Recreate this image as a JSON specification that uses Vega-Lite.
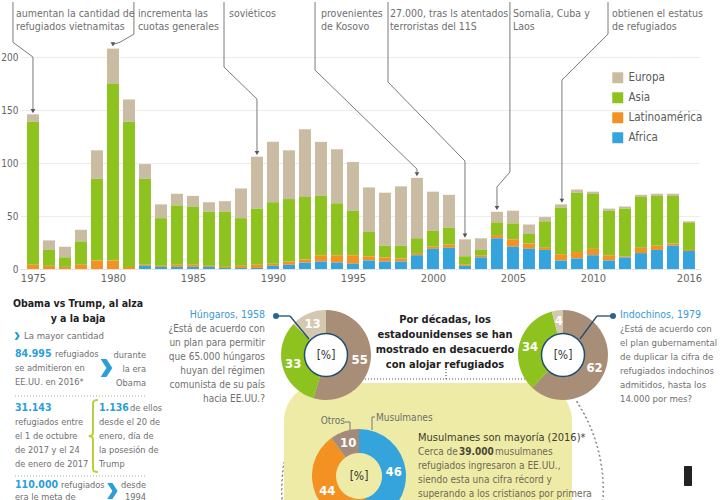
{
  "$schema": "https://vega.github.io/schema/vega-lite/v6.json",
  "padding": 0,
  "background": "white",
  "spacing": 5,
  "config": {
    "view": {"stroke": null},
    "font": "Liberation Sans Narrow, DejaVu Sans Condensed, Liberation Sans, sans-serif",
    "text": {"fontSize": 10, "color": "#6f6f6f", "baseline": "middle"}
  },
  "datasets": {
    "refugiados": [
      {"anio": 1975, "Europa": 7, "Asia": 135, "Latinoamérica": 4, "Africa": 0},
      {"anio": 1976, "Europa": 9, "Asia": 15, "Latinoamérica": 3, "Africa": 0},
      {"anio": 1977, "Europa": 10, "Asia": 9, "Latinoamérica": 2, "Africa": 0},
      {"anio": 1978, "Europa": 11, "Asia": 22, "Latinoamérica": 4, "Africa": 0},
      {"anio": 1979, "Europa": 27, "Asia": 77, "Latinoamérica": 8, "Africa": 0},
      {"anio": 1980, "Europa": 33, "Asia": 167, "Latinoamérica": 8, "Africa": 0},
      {"anio": 1981, "Europa": 21, "Asia": 137, "Latinoamérica": 2, "Africa": 0},
      {"anio": 1982, "Europa": 14, "Asia": 81, "Latinoamérica": 1, "Africa": 3},
      {"anio": 1983, "Europa": 13, "Asia": 45, "Latinoamérica": 1, "Africa": 2},
      {"anio": 1984, "Europa": 11, "Asia": 56, "Latinoamérica": 2, "Africa": 2},
      {"anio": 1985, "Europa": 10, "Asia": 55, "Latinoamérica": 2, "Africa": 2},
      {"anio": 1986, "Europa": 9, "Asia": 51, "Latinoamérica": 1, "Africa": 2},
      {"anio": 1987, "Europa": 10, "Asia": 52, "Latinoamérica": 1, "Africa": 1},
      {"anio": 1988, "Europa": 28, "Asia": 45, "Latinoamérica": 2, "Africa": 1},
      {"anio": 1989, "Europa": 49, "Asia": 53, "Latinoamérica": 3, "Africa": 1},
      {"anio": 1990, "Europa": 57, "Asia": 58, "Latinoamérica": 2, "Africa": 3},
      {"anio": 1991, "Europa": 46, "Asia": 59, "Latinoamérica": 3, "Africa": 4},
      {"anio": 1992, "Europa": 64, "Asia": 59, "Latinoamérica": 3, "Africa": 6},
      {"anio": 1993, "Europa": 51, "Asia": 56, "Latinoamérica": 6, "Africa": 7},
      {"anio": 1994, "Europa": 51, "Asia": 49, "Latinoamérica": 7, "Africa": 6},
      {"anio": 1995, "Europa": 46, "Asia": 42, "Latinoamérica": 8, "Africa": 5},
      {"anio": 1996, "Europa": 42, "Asia": 23, "Latinoamérica": 4, "Africa": 8},
      {"anio": 1997, "Europa": 50, "Asia": 11, "Latinoamérica": 4, "Africa": 7},
      {"anio": 1998, "Europa": 56, "Asia": 12, "Latinoamérica": 3, "Africa": 7},
      {"anio": 1999, "Europa": 57, "Asia": 14, "Latinoamérica": 2, "Africa": 13},
      {"anio": 2000, "Europa": 37, "Asia": 15, "Latinoamérica": 2, "Africa": 19},
      {"anio": 2001, "Europa": 31, "Asia": 16, "Latinoamérica": 3, "Africa": 20},
      {"anio": 2002, "Europa": 16, "Asia": 8, "Latinoamérica": 1, "Africa": 3},
      {"anio": 2003, "Europa": 11, "Asia": 5, "Latinoamérica": 2, "Africa": 11},
      {"anio": 2004, "Europa": 10, "Asia": 12, "Latinoamérica": 3, "Africa": 29},
      {"anio": 2005, "Europa": 12, "Asia": 15, "Latinoamérica": 7, "Africa": 21},
      {"anio": 2006, "Europa": 9, "Asia": 9, "Latinoamérica": 5, "Africa": 19},
      {"anio": 2007, "Europa": 4, "Asia": 25, "Latinoamérica": 2, "Africa": 18},
      {"anio": 2008, "Europa": 3, "Asia": 44, "Latinoamérica": 6, "Africa": 8},
      {"anio": 2009, "Europa": 3, "Asia": 56, "Latinoamérica": 6, "Africa": 10},
      {"anio": 2010, "Europa": 2, "Asia": 52, "Latinoamérica": 6, "Africa": 13},
      {"anio": 2011, "Europa": 2, "Asia": 42, "Latinoamérica": 5, "Africa": 8},
      {"anio": 2012, "Europa": 2, "Asia": 45, "Latinoamérica": 1, "Africa": 11},
      {"anio": 2013, "Europa": 2, "Asia": 48, "Latinoamérica": 5, "Africa": 15},
      {"anio": 2014, "Europa": 2, "Asia": 47, "Latinoamérica": 4, "Africa": 18},
      {"anio": 2015, "Europa": 2, "Asia": 45, "Latinoamérica": 2, "Africa": 22},
      {"anio": 2016, "Europa": 1, "Asia": 26, "Latinoamérica": 1, "Africa": 17}
    ],
    "guias": [
      {"id": 1, "p": 1, "anio": 1973.75, "valor": 252}, {"id": 1, "p": 2, "anio": 1973.75, "valor": 214},
      {"id": 1, "p": 3, "anio": 1975, "valor": 200}, {"id": 1, "p": 4, "anio": 1975, "valor": 149},
      {"id": 2, "p": 1, "anio": 1981.31, "valor": 252}, {"id": 2, "p": 2, "anio": 1981.31, "valor": 221.7},
      {"id": 2, "p": 3, "anio": 1980.44, "valor": 214}, {"id": 2, "p": 4, "anio": 1980, "valor": 212},
      {"id": 3, "p": 1, "anio": 1986.94, "valor": 252}, {"id": 3, "p": 2, "anio": 1986.94, "valor": 190.6},
      {"id": 3, "p": 3, "anio": 1989, "valor": 160.4}, {"id": 3, "p": 4, "anio": 1989, "valor": 109.5},
      {"id": 4, "p": 1, "anio": 1992.63, "valor": 252}, {"id": 4, "p": 2, "anio": 1992.63, "valor": 187.7},
      {"id": 4, "p": 3, "anio": 1999, "valor": 94.3}, {"id": 4, "p": 4, "anio": 1999, "valor": 89.5},
      {"id": 5, "p": 1, "anio": 1997.19, "valor": 252}, {"id": 5, "p": 2, "anio": 1997.19, "valor": 176.4},
      {"id": 5, "p": 3, "anio": 2002, "valor": 101.9}, {"id": 5, "p": 4, "anio": 2002, "valor": 31.5},
      {"id": 6, "p": 1, "anio": 2004.81, "valor": 252}, {"id": 6, "p": 2, "anio": 2004.81, "valor": 91.5},
      {"id": 6, "p": 3, "anio": 2004, "valor": 77.4}, {"id": 6, "p": 4, "anio": 2004, "valor": 57.5},
      {"id": 7, "p": 1, "anio": 2010.94, "valor": 252}, {"id": 7, "p": 2, "anio": 2010.94, "valor": 221.7},
      {"id": 7, "p": 3, "anio": 2008.06, "valor": 178.3}, {"id": 7, "p": 4, "anio": 2008.06, "valor": 64.5}
    ],
    "hungaros": [
      {"respuesta": "No", "pct": 55}, {"respuesta": "Sí", "pct": 33}, {"respuesta": "No sabe", "pct": 13}
    ],
    "indochinos": [
      {"respuesta": "No", "pct": 62}, {"respuesta": "Sí", "pct": 34}, {"respuesta": "No sabe", "pct": 4}
    ],
    "religion": [
      {"grupo": "Musulmanes", "pct": 46}, {"grupo": "Cristianos", "pct": 44}, {"grupo": "Otros", "pct": 10}
    ]
  },
  "vconcat": [
    {
      "width": 680,
      "height": 267,
      "data": {"values": [{}]},
      "layer": [
        {
          "data": {"name": "refugiados"},
          "transform": [
            {"fold": ["Europa", "Asia", "Latinoamérica", "Africa"], "as": ["region", "miles"]},
            {"calculate": "indexof(['Africa','Latinoamérica','Asia','Europa'], datum.region)", "as": "orden"}
          ],
          "mark": {"type": "bar", "width": 12},
          "encoding": {
            "x": {
              "field": "anio", "type": "quantitative",
              "scale": {"domain": [1974.19, 2016.69], "nice": false, "zero": false, "padding": 0},
              "axis": {"values": [1975, 1980, 1985, 1990, 1995, 2000, 2005, 2010, 2016], "format": "d", "title": null, "grid": false, "ticks": false, "domainColor": "#e2e2e2", "labelColor": "#666", "labelFontSize": 11, "labelPadding": 3, "minExtent": 18, "maxExtent": 18}
            },
            "y": {
              "field": "miles", "type": "quantitative", "stack": "zero",
              "scale": {"domain": [0, 252], "nice": false},
              "axis": {"values": [0, 50, 100, 150, 200], "title": null, "domain": false, "ticks": false, "gridColor": "#ececec", "labelColor": "#666", "labelFontSize": 10, "labelPadding": 2, "minExtent": 20, "maxExtent": 20}
            },
            "color": {
              "field": "region", "type": "nominal",
              "scale": {"domain": ["Europa", "Asia", "Latinoamérica", "Africa"], "range": ["#c9bca2", "#8dc21f", "#f39122", "#36a4dc"]},
              "legend": {"title": null, "orient": "none", "legendX": 592, "legendY": 70, "symbolType": "square", "symbolSize": 120, "symbolStrokeWidth": 0, "labelFontSize": 11.5, "labelColor": "#5a5a5a", "rowPadding": 7, "labelOffset": 5}
            },
            "order": {"field": "orden", "type": "quantitative"}
          }
        },
        {
          "data": {"name": "guias"},
          "mark": {"type": "line", "color": "#7a7a7a", "strokeWidth": 1},
          "encoding": {
            "x": {"field": "anio", "type": "quantitative", "scale": {"domain": [1974.19, 2016.69], "nice": false, "zero": false, "padding": 0}},
            "y": {"field": "valor", "type": "quantitative", "scale": {"domain": [0, 252], "nice": false}},
            "detail": {"field": "id"},
            "order": {"field": "p", "type": "quantitative"}
          }
        },
        {
          "data": {"name": "guias"},
          "transform": [{"filter": "datum.p == 4"}],
          "mark": {"type": "point", "shape": "triangle-down", "size": 22, "filled": true, "color": "#555", "opacity": 1},
          "encoding": {
            "x": {"field": "anio", "type": "quantitative", "scale": {"domain": [1974.19, 2016.69], "nice": false, "zero": false, "padding": 0}},
            "y": {"field": "valor", "type": "quantitative", "scale": {"domain": [0, 252], "nice": false}}
          }
        },
        {"mark": {"type": "text", "align": "left", "lineHeight": 13, "fontSize": 10.5}, "encoding": {"x": {"datum": 1973.94, "type": "quantitative", "scale": {"domain": [1974.19, 2016.69], "nice": false, "zero": false, "padding": 0}}, "y": {"datum": 240.6, "type": "quantitative", "scale": {"domain": [0, 252], "nice": false}}, "text": {"value": ["aumentan la cantidad de", "refugiados vietnamitas"]}}},
        {"mark": {"type": "text", "align": "left", "lineHeight": 13, "fontSize": 10.5}, "encoding": {"x": {"datum": 1981.56, "type": "quantitative", "scale": {"domain": [1974.19, 2016.69], "nice": false, "zero": false, "padding": 0}}, "y": {"datum": 240.6, "type": "quantitative", "scale": {"domain": [0, 252], "nice": false}}, "text": {"value": ["incrementa las", "cuotas generales"]}}},
        {"mark": {"type": "text", "align": "left", "lineHeight": 13, "fontSize": 10.5}, "encoding": {"x": {"datum": 1987.25, "type": "quantitative", "scale": {"domain": [1974.19, 2016.69], "nice": false, "zero": false, "padding": 0}}, "y": {"datum": 240.6, "type": "quantitative", "scale": {"domain": [0, 252], "nice": false}}, "text": {"value": "soviéticos"}}},
        {"mark": {"type": "text", "align": "left", "lineHeight": 13, "fontSize": 10.5}, "encoding": {"x": {"datum": 1993.0, "type": "quantitative", "scale": {"domain": [1974.19, 2016.69], "nice": false, "zero": false, "padding": 0}}, "y": {"datum": 240.6, "type": "quantitative", "scale": {"domain": [0, 252], "nice": false}}, "text": {"value": ["provenientes", "de Kosovo"]}}},
        {"mark": {"type": "text", "align": "left", "lineHeight": 13, "fontSize": 10.5}, "encoding": {"x": {"datum": 1997.31, "type": "quantitative", "scale": {"domain": [1974.19, 2016.69], "nice": false, "zero": false, "padding": 0}}, "y": {"datum": 240.6, "type": "quantitative", "scale": {"domain": [0, 252], "nice": false}}, "text": {"value": ["27.000, tras ls atentados", "terroristas del 11S"]}}},
        {"mark": {"type": "text", "align": "left", "lineHeight": 13, "fontSize": 10.5}, "encoding": {"x": {"datum": 2005.0, "type": "quantitative", "scale": {"domain": [1974.19, 2016.69], "nice": false, "zero": false, "padding": 0}}, "y": {"datum": 240.6, "type": "quantitative", "scale": {"domain": [0, 252], "nice": false}}, "text": {"value": ["Somalia, Cuba y", "Laos"]}}},
        {"mark": {"type": "text", "align": "left", "lineHeight": 13, "fontSize": 10.5}, "encoding": {"x": {"datum": 2011.19, "type": "quantitative", "scale": {"domain": [1974.19, 2016.69], "nice": false, "zero": false, "padding": 0}}, "y": {"datum": 240.6, "type": "quantitative", "scale": {"domain": [0, 252], "nice": false}}, "text": {"value": ["obtienen el estatus", "de refugiados"]}}}
      ]
    },
    {
      "width": 700,
      "height": 210,
      "data": {"values": [{}]},
      "resolve": {"scale": {"theta": "independent", "color": "independent"}},
      "layer": [
        {
          "mark": {"type": "arc", "radius": 161, "radius2": 160.5, "theta": 0.99, "theta2": 5.29, "filled": false, "color": "#8a8a8a", "strokeWidth": 1.2, "strokeDash": [1.5, 3], "clip": true},
          "encoding": {
            "x": {"datum": 442.5, "type": "quantitative", "scale": {"domain": [20, 720], "nice": false, "zero": false}, "axis": null},
            "y": {"datum": 488, "type": "quantitative", "scale": {"domain": [290, 500], "reverse": true, "nice": false, "zero": false}, "axis": null}
          }
        },
        {
          "mark": {"type": "rect", "color": "#eeeba6", "cornerRadiusTopLeft": 38, "cornerRadiusTopRight": 38, "clip": true},
          "encoding": {"x": {"datum": 284, "type": "quantitative", "scale": {"domain": [20, 720], "nice": false, "zero": false}, "axis": null}, "x2": {"datum": 572}, "y": {"datum": 381, "type": "quantitative", "scale": {"domain": [290, 500], "reverse": true, "nice": false, "zero": false}, "axis": null}, "y2": {"datum": 500}}
        },
        {
          "mark": {"type": "rule", "color": "#555", "strokeDash": [1, 2], "strokeWidth": 1.2},
          "encoding": {"x": {"datum": 326, "type": "quantitative", "scale": {"domain": [20, 720], "nice": false, "zero": false}, "axis": null}, "x2": {"datum": 562}, "y": {"datum": 377, "type": "quantitative", "scale": {"domain": [290, 500], "reverse": true, "nice": false, "zero": false}, "axis": null}}
        },
        {
          "mark": {"type": "rule", "color": "#555", "strokeDash": [1, 2], "strokeWidth": 1.2},
          "encoding": {"x": {"datum": 446, "type": "quantitative", "scale": {"domain": [20, 720], "nice": false, "zero": false}, "axis": null}, "y": {"datum": 367, "type": "quantitative", "scale": {"domain": [290, 500], "reverse": true, "nice": false, "zero": false}, "axis": null}, "y2": {"datum": 377}}
        },
        {
          "data": {"name": "hungaros"},
          "encoding": {
            "x": {"datum": 326, "type": "quantitative", "scale": {"domain": [20, 720], "nice": false, "zero": false}, "axis": null},
            "y": {"datum": 353, "type": "quantitative", "scale": {"domain": [290, 500], "reverse": true, "nice": false, "zero": false}, "axis": null},
            "theta": {"field": "pct", "type": "quantitative", "stack": true},
            "order": {"field": "pct", "type": "quantitative", "sort": "descending"}
          },
          "layer": [
            {"mark": {"type": "arc", "outerRadius": 45, "innerRadius": 21}, "encoding": {"color": {"field": "respuesta", "type": "nominal", "scale": {"domain": ["No", "Sí", "No sabe"], "range": ["#a88d77", "#8dc21f", "#d5c8b0"]}, "legend": null}}},
            {"mark": {"type": "text", "radius": 34, "color": "white", "fontWeight": "bold", "fontSize": 13, "align": "center"}, "encoding": {"text": {"field": "pct", "type": "quantitative"}}}
          ]
        },
        {
          "data": {"name": "indochinos"},
          "encoding": {
            "x": {"datum": 563, "type": "quantitative", "scale": {"domain": [20, 720], "nice": false, "zero": false}, "axis": null},
            "y": {"datum": 353, "type": "quantitative", "scale": {"domain": [290, 500], "reverse": true, "nice": false, "zero": false}, "axis": null},
            "theta": {"field": "pct", "type": "quantitative", "stack": true},
            "order": {"field": "pct", "type": "quantitative", "sort": "descending"}
          },
          "layer": [
            {"mark": {"type": "arc", "outerRadius": 45, "innerRadius": 21}, "encoding": {"color": {"field": "respuesta", "type": "nominal", "scale": {"domain": ["No", "Sí", "No sabe"], "range": ["#a88d77", "#8dc21f", "#d5c8b0"]}, "legend": null}}},
            {"mark": {"type": "text", "radius": 34, "color": "white", "fontWeight": "bold", "fontSize": 13, "align": "center"}, "encoding": {"text": {"field": "pct", "type": "quantitative"}}}
          ]
        },
        {
          "data": {"name": "religion"},
          "encoding": {
            "x": {"datum": 359, "type": "quantitative", "scale": {"domain": [20, 720], "nice": false, "zero": false}, "axis": null},
            "y": {"datum": 474, "type": "quantitative", "scale": {"domain": [290, 500], "reverse": true, "nice": false, "zero": false}, "axis": null},
            "theta": {"field": "pct", "type": "quantitative", "stack": true},
            "order": {"field": "pct", "type": "quantitative", "sort": "descending"}
          },
          "layer": [
            {"mark": {"type": "arc", "outerRadius": 47, "innerRadius": 23}, "encoding": {"color": {"field": "grupo", "type": "nominal", "scale": {"domain": ["Musulmanes", "Cristianos", "Otros"], "range": ["#36a4dc", "#f39122", "#a38a7b"]}, "legend": null}}},
            {"mark": {"type": "text", "radius": 35, "color": "white", "fontWeight": "bold", "fontSize": 13, "align": "center"}, "encoding": {"text": {"field": "pct", "type": "quantitative"}}}
          ]
        },
        {"mark": {"type": "point", "shape": "circle", "size": 1849, "filled": true, "fill": "white", "stroke": "#1f4e6f", "strokeWidth": 1.5, "opacity": 1}, "encoding": {"x": {"datum": 326, "type": "quantitative", "scale": {"domain": [20, 720], "nice": false, "zero": false}, "axis": null}, "y": {"datum": 353, "type": "quantitative", "scale": {"domain": [290, 500], "reverse": true, "nice": false, "zero": false}, "axis": null}}},
        {"mark": {"type": "point", "shape": "circle", "size": 1849, "filled": true, "fill": "white", "stroke": "#1f4e6f", "strokeWidth": 1.5, "opacity": 1}, "encoding": {"x": {"datum": 563, "type": "quantitative", "scale": {"domain": [20, 720], "nice": false, "zero": false}, "axis": null}, "y": {"datum": 353, "type": "quantitative", "scale": {"domain": [290, 500], "reverse": true, "nice": false, "zero": false}, "axis": null}}},
        {"mark": {"type": "text", "fontSize": 12, "color": "#333", "align": "center"}, "encoding": {"x": {"datum": 326, "type": "quantitative", "scale": {"domain": [20, 720], "nice": false, "zero": false}, "axis": null}, "y": {"datum": 353, "type": "quantitative", "scale": {"domain": [290, 500], "reverse": true, "nice": false, "zero": false}, "axis": null}, "text": {"value": "[%]"}}},
        {"mark": {"type": "text", "fontSize": 12, "color": "#333", "align": "center"}, "encoding": {"x": {"datum": 563, "type": "quantitative", "scale": {"domain": [20, 720], "nice": false, "zero": false}, "axis": null}, "y": {"datum": 353, "type": "quantitative", "scale": {"domain": [290, 500], "reverse": true, "nice": false, "zero": false}, "axis": null}, "text": {"value": "[%]"}}},
        {"mark": {"type": "text", "fontSize": 12, "color": "#333", "align": "center"}, "encoding": {"x": {"datum": 359, "type": "quantitative", "scale": {"domain": [20, 720], "nice": false, "zero": false}, "axis": null}, "y": {"datum": 474, "type": "quantitative", "scale": {"domain": [290, 500], "reverse": true, "nice": false, "zero": false}, "axis": null}, "text": {"value": "[%]"}}},
        {"mark": {"type": "rule", "color": "#1f4e6f", "strokeWidth": 1.3}, "encoding": {"x": {"datum": 276, "type": "quantitative", "scale": {"domain": [20, 720], "nice": false, "zero": false}, "axis": null}, "x2": {"datum": 290}, "y": {"datum": 314, "type": "quantitative", "scale": {"domain": [290, 500], "reverse": true, "nice": false, "zero": false}, "axis": null}, "y2": {"datum": 314}}},
        {"mark": {"type": "rule", "color": "#1f4e6f", "strokeWidth": 1.3}, "encoding": {"x": {"datum": 290, "type": "quantitative", "scale": {"domain": [20, 720], "nice": false, "zero": false}, "axis": null}, "x2": {"datum": 309}, "y": {"datum": 314, "type": "quantitative", "scale": {"domain": [290, 500], "reverse": true, "nice": false, "zero": false}, "axis": null}, "y2": {"datum": 337}}},
        {"mark": {"type": "rule", "color": "#1f4e6f", "strokeWidth": 1.3}, "encoding": {"x": {"datum": 613, "type": "quantitative", "scale": {"domain": [20, 720], "nice": false, "zero": false}, "axis": null}, "x2": {"datum": 597}, "y": {"datum": 314, "type": "quantitative", "scale": {"domain": [290, 500], "reverse": true, "nice": false, "zero": false}, "axis": null}, "y2": {"datum": 314}}},
        {"mark": {"type": "rule", "color": "#1f4e6f", "strokeWidth": 1.3}, "encoding": {"x": {"datum": 597, "type": "quantitative", "scale": {"domain": [20, 720], "nice": false, "zero": false}, "axis": null}, "x2": {"datum": 580}, "y": {"datum": 314, "type": "quantitative", "scale": {"domain": [290, 500], "reverse": true, "nice": false, "zero": false}, "axis": null}, "y2": {"datum": 337}}},
        {"mark": {"type": "point", "shape": "circle", "size": 36, "filled": true, "color": "#2a6590", "opacity": 1}, "encoding": {"x": {"datum": 276, "type": "quantitative", "scale": {"domain": [20, 720], "nice": false, "zero": false}, "axis": null}, "y": {"datum": 314, "type": "quantitative", "scale": {"domain": [290, 500], "reverse": true, "nice": false, "zero": false}, "axis": null}}},
        {"mark": {"type": "point", "shape": "circle", "size": 36, "filled": true, "color": "#2a6590", "opacity": 1}, "encoding": {"x": {"datum": 613, "type": "quantitative", "scale": {"domain": [20, 720], "nice": false, "zero": false}, "axis": null}, "y": {"datum": 314, "type": "quantitative", "scale": {"domain": [290, 500], "reverse": true, "nice": false, "zero": false}, "axis": null}}},
        {"mark": {"type": "text", "align": "center", "fontWeight": "bold", "fontSize": 11, "color": "#222", "lineHeight": 15}, "encoding": {"x": {"datum": 445, "type": "quantitative", "scale": {"domain": [20, 720], "nice": false, "zero": false}, "axis": null}, "y": {"datum": 318, "type": "quantitative", "scale": {"domain": [290, 500], "reverse": true, "nice": false, "zero": false}, "axis": null}, "text": {"value": ["Por décadas, los", "estadounidenses se han", "mostrado en desacuerdo", "con alojar refugiados"]}}},
        {"mark": {"type": "text", "align": "right", "fontSize": 10.5, "color": "#3b9ad6"}, "encoding": {"x": {"datum": 265, "type": "quantitative", "scale": {"domain": [20, 720], "nice": false, "zero": false}, "axis": null}, "y": {"datum": 313, "type": "quantitative", "scale": {"domain": [290, 500], "reverse": true, "nice": false, "zero": false}, "axis": null}, "text": {"value": "Húngaros, 1958"}}},
        {"mark": {"type": "text", "align": "right", "fontSize": 10, "lineHeight": 14}, "encoding": {"x": {"datum": 265, "type": "quantitative", "scale": {"domain": [20, 720], "nice": false, "zero": false}, "axis": null}, "y": {"datum": 327, "type": "quantitative", "scale": {"domain": [290, 500], "reverse": true, "nice": false, "zero": false}, "axis": null}, "text": {"value": ["¿Está de acuerdo con", "un plan para permitir", "que 65.000 húngaros", "huyan del régimen", "comunista de su país", "hacia EE.UU.?"]}}},
        {"mark": {"type": "text", "align": "left", "fontSize": 10.5, "color": "#3b9ad6"}, "encoding": {"x": {"datum": 620, "type": "quantitative", "scale": {"domain": [20, 720], "nice": false, "zero": false}, "axis": null}, "y": {"datum": 313, "type": "quantitative", "scale": {"domain": [290, 500], "reverse": true, "nice": false, "zero": false}, "axis": null}, "text": {"value": "Indochinos, 1979"}}},
        {"mark": {"type": "text", "align": "left", "fontSize": 9.5, "lineHeight": 14}, "encoding": {"x": {"datum": 620, "type": "quantitative", "scale": {"domain": [20, 720], "nice": false, "zero": false}, "axis": null}, "y": {"datum": 327, "type": "quantitative", "scale": {"domain": [290, 500], "reverse": true, "nice": false, "zero": false}, "axis": null}, "text": {"value": ["¿Está de acuerdo con", "el plan gubernamental", "de duplicar la cifra de", "refugiados indochinos", "admitidos, hasta los", "14.000 por mes?"]}}},
        {"mark": {"type": "text", "align": "right", "fontSize": 10}, "encoding": {"x": {"datum": 345, "type": "quantitative", "scale": {"domain": [20, 720], "nice": false, "zero": false}, "axis": null}, "y": {"datum": 419, "type": "quantitative", "scale": {"domain": [290, 500], "reverse": true, "nice": false, "zero": false}, "axis": null}, "text": {"value": "Otros"}}},
        {"mark": {"type": "rule", "color": "#777", "strokeWidth": 1}, "encoding": {"x": {"datum": 345, "type": "quantitative", "scale": {"domain": [20, 720], "nice": false, "zero": false}, "axis": null}, "x2": {"datum": 350}, "y": {"datum": 420, "type": "quantitative", "scale": {"domain": [290, 500], "reverse": true, "nice": false, "zero": false}, "axis": null}, "y2": {"datum": 420}}},
        {"mark": {"type": "rule", "color": "#777", "strokeWidth": 1}, "encoding": {"x": {"datum": 350, "type": "quantitative", "scale": {"domain": [20, 720], "nice": false, "zero": false}, "axis": null}, "y": {"datum": 420, "type": "quantitative", "scale": {"domain": [290, 500], "reverse": true, "nice": false, "zero": false}, "axis": null}, "y2": {"datum": 428}}},
        {"mark": {"type": "text", "align": "left", "fontSize": 10}, "encoding": {"x": {"datum": 376, "type": "quantitative", "scale": {"domain": [20, 720], "nice": false, "zero": false}, "axis": null}, "y": {"datum": 416, "type": "quantitative", "scale": {"domain": [290, 500], "reverse": true, "nice": false, "zero": false}, "axis": null}, "text": {"value": "Musulmanes"}}},
        {"mark": {"type": "rule", "color": "#777", "strokeWidth": 1}, "encoding": {"x": {"datum": 372, "type": "quantitative", "scale": {"domain": [20, 720], "nice": false, "zero": false}, "axis": null}, "x2": {"datum": 375}, "y": {"datum": 415, "type": "quantitative", "scale": {"domain": [290, 500], "reverse": true, "nice": false, "zero": false}, "axis": null}, "y2": {"datum": 415}}},
        {"mark": {"type": "rule", "color": "#777", "strokeWidth": 1}, "encoding": {"x": {"datum": 372, "type": "quantitative", "scale": {"domain": [20, 720], "nice": false, "zero": false}, "axis": null}, "y": {"datum": 415, "type": "quantitative", "scale": {"domain": [290, 500], "reverse": true, "nice": false, "zero": false}, "axis": null}, "y2": {"datum": 428}}},
        {"mark": {"type": "text", "align": "left", "fontSize": 11, "color": "#3d3d30"}, "encoding": {"x": {"datum": 418, "type": "quantitative", "scale": {"domain": [20, 720], "nice": false, "zero": false}, "axis": null}, "y": {"datum": 436, "type": "quantitative", "scale": {"domain": [290, 500], "reverse": true, "nice": false, "zero": false}, "axis": null}, "text": {"value": "Musulmanes son mayoría (2016)*"}}},
        {"mark": {"type": "text", "align": "left", "fontSize": 10, "color": "#6e6a55"}, "encoding": {"x": {"datum": 418, "type": "quantitative", "scale": {"domain": [20, 720], "nice": false, "zero": false}, "axis": null}, "y": {"datum": 450, "type": "quantitative", "scale": {"domain": [290, 500], "reverse": true, "nice": false, "zero": false}, "axis": null}, "text": {"value": "Cerca de"}}},
        {"mark": {"type": "text", "align": "left", "fontSize": 10, "fontWeight": "bold", "color": "#4a4636"}, "encoding": {"x": {"datum": 459, "type": "quantitative", "scale": {"domain": [20, 720], "nice": false, "zero": false}, "axis": null}, "y": {"datum": 450, "type": "quantitative", "scale": {"domain": [290, 500], "reverse": true, "nice": false, "zero": false}, "axis": null}, "text": {"value": "39.000"}}},
        {"mark": {"type": "text", "align": "left", "fontSize": 10, "color": "#6e6a55"}, "encoding": {"x": {"datum": 495, "type": "quantitative", "scale": {"domain": [20, 720], "nice": false, "zero": false}, "axis": null}, "y": {"datum": 450, "type": "quantitative", "scale": {"domain": [290, 500], "reverse": true, "nice": false, "zero": false}, "axis": null}, "text": {"value": "musulmanes"}}},
        {"mark": {"type": "text", "align": "left", "fontSize": 10, "color": "#6e6a55", "lineHeight": 14}, "encoding": {"x": {"datum": 418, "type": "quantitative", "scale": {"domain": [20, 720], "nice": false, "zero": false}, "axis": null}, "y": {"datum": 464, "type": "quantitative", "scale": {"domain": [290, 500], "reverse": true, "nice": false, "zero": false}, "axis": null}, "text": {"value": ["refugiados ingresaron a EE.UU.,", "siendo esta una cifra récord y", "superando a los cristianos por primera"]}}},
        {"mark": {"type": "rect", "color": "#222", "cornerRadius": 1}, "encoding": {"x": {"datum": 684, "type": "quantitative", "scale": {"domain": [20, 720], "nice": false, "zero": false}, "axis": null}, "x2": {"datum": 692}, "y": {"datum": 464, "type": "quantitative", "scale": {"domain": [290, 500], "reverse": true, "nice": false, "zero": false}, "axis": null}, "y2": {"datum": 484}}},
        {"mark": {"type": "text", "align": "center", "fontWeight": "bold", "fontSize": 10.5, "color": "#1e1e1e", "lineHeight": 15}, "encoding": {"x": {"datum": 78, "type": "quantitative", "scale": {"domain": [20, 720], "nice": false, "zero": false}, "axis": null}, "y": {"datum": 302, "type": "quantitative", "scale": {"domain": [290, 500], "reverse": true, "nice": false, "zero": false}, "axis": null}, "text": {"value": ["Obama vs Trump, al alza", "y a la baja"]}}},
        {"mark": {"type": "point", "shape": "M-0.6,-1L0.05,-1L0.7,0L0.05,1L-0.6,1L0.05,0Z", "size": 64, "filled": true, "color": "#2a9fd8", "opacity": 1}, "encoding": {"x": {"datum": 17, "type": "quantitative", "scale": {"domain": [20, 720], "nice": false, "zero": false}, "axis": null}, "y": {"datum": 334, "type": "quantitative", "scale": {"domain": [290, 500], "reverse": true, "nice": false, "zero": false}, "axis": null}}},
        {"mark": {"type": "text", "align": "left", "fontSize": 9.5}, "encoding": {"x": {"datum": 24, "type": "quantitative", "scale": {"domain": [20, 720], "nice": false, "zero": false}, "axis": null}, "y": {"datum": 334, "type": "quantitative", "scale": {"domain": [290, 500], "reverse": true, "nice": false, "zero": false}, "axis": null}, "text": {"value": "La mayor cantidad"}}},
        {"mark": {"type": "text", "align": "left", "fontSize": 10.5, "fontWeight": "bold", "color": "#2a9fd8"}, "encoding": {"x": {"datum": 15, "type": "quantitative", "scale": {"domain": [20, 720], "nice": false, "zero": false}, "axis": null}, "y": {"datum": 352, "type": "quantitative", "scale": {"domain": [290, 500], "reverse": true, "nice": false, "zero": false}, "axis": null}, "text": {"value": "84.995"}}},
        {"mark": {"type": "text", "align": "left", "fontSize": 9.2}, "encoding": {"x": {"datum": 55, "type": "quantitative", "scale": {"domain": [20, 720], "nice": false, "zero": false}, "axis": null}, "y": {"datum": 352, "type": "quantitative", "scale": {"domain": [290, 500], "reverse": true, "nice": false, "zero": false}, "axis": null}, "text": {"value": "refugiados"}}},
        {"mark": {"type": "text", "align": "left", "fontSize": 9.2, "lineHeight": 14}, "encoding": {"x": {"datum": 15, "type": "quantitative", "scale": {"domain": [20, 720], "nice": false, "zero": false}, "axis": null}, "y": {"datum": 366, "type": "quantitative", "scale": {"domain": [290, 500], "reverse": true, "nice": false, "zero": false}, "axis": null}, "text": {"value": ["se admitieron en", "EE.UU. en 2016*"]}}},
        {"mark": {"type": "point", "shape": "M-0.6,-1L0.05,-1L0.7,0L0.05,1L-0.6,1L0.05,0Z", "size": 324, "filled": true, "color": "#2a9fd8", "opacity": 1}, "encoding": {"x": {"datum": 106, "type": "quantitative", "scale": {"domain": [20, 720], "nice": false, "zero": false}, "axis": null}, "y": {"datum": 366, "type": "quantitative", "scale": {"domain": [290, 500], "reverse": true, "nice": false, "zero": false}, "axis": null}}},
        {"mark": {"type": "text", "align": "right", "fontSize": 9.2, "lineHeight": 14}, "encoding": {"x": {"datum": 146, "type": "quantitative", "scale": {"domain": [20, 720], "nice": false, "zero": false}, "axis": null}, "y": {"datum": 353, "type": "quantitative", "scale": {"domain": [290, 500], "reverse": true, "nice": false, "zero": false}, "axis": null}, "text": {"value": ["durante", "la era", "Obama"]}}},
        {"mark": {"type": "rule", "color": "#aaa", "strokeDash": [1, 2]}, "encoding": {"x": {"datum": 15, "type": "quantitative", "scale": {"domain": [20, 720], "nice": false, "zero": false}, "axis": null}, "x2": {"datum": 145}, "y": {"datum": 394, "type": "quantitative", "scale": {"domain": [290, 500], "reverse": true, "nice": false, "zero": false}, "axis": null}}},
        {"mark": {"type": "text", "align": "left", "fontSize": 10.5, "fontWeight": "bold", "color": "#2a9fd8"}, "encoding": {"x": {"datum": 15, "type": "quantitative", "scale": {"domain": [20, 720], "nice": false, "zero": false}, "axis": null}, "y": {"datum": 406, "type": "quantitative", "scale": {"domain": [290, 500], "reverse": true, "nice": false, "zero": false}, "axis": null}, "text": {"value": "31.143"}}},
        {"mark": {"type": "text", "align": "left", "fontSize": 9.2, "lineHeight": 14}, "encoding": {"x": {"datum": 15, "type": "quantitative", "scale": {"domain": [20, 720], "nice": false, "zero": false}, "axis": null}, "y": {"datum": 420, "type": "quantitative", "scale": {"domain": [290, 500], "reverse": true, "nice": false, "zero": false}, "axis": null}, "text": {"value": ["refugiados entre", "el 1 de octubre", "de 2017 y el 24", "de enero de 2017"]}}},
        {"mark": {"type": "point", "shape": "M0.14,-1C0.02,-1,0,-0.97,0,-0.9L0,-0.1C0,-0.03,-0.04,0,-0.12,0C-0.04,0,0,0.03,0,0.1L0,0.9C0,0.97,0.02,1,0.14,1", "size": 5184, "filled": false, "stroke": "#b9d03c", "strokeWidth": 2, "opacity": 1}, "encoding": {"x": {"datum": 93, "type": "quantitative", "scale": {"domain": [20, 720], "nice": false, "zero": false}, "axis": null}, "y": {"datum": 434, "type": "quantitative", "scale": {"domain": [290, 500], "reverse": true, "nice": false, "zero": false}, "axis": null}}},
        {"mark": {"type": "text", "align": "left", "fontSize": 10.5, "fontWeight": "bold", "color": "#2a9fd8"}, "encoding": {"x": {"datum": 99, "type": "quantitative", "scale": {"domain": [20, 720], "nice": false, "zero": false}, "axis": null}, "y": {"datum": 406, "type": "quantitative", "scale": {"domain": [290, 500], "reverse": true, "nice": false, "zero": false}, "axis": null}, "text": {"value": "1.136"}}},
        {"mark": {"type": "text", "align": "left", "fontSize": 9.2}, "encoding": {"x": {"datum": 130, "type": "quantitative", "scale": {"domain": [20, 720], "nice": false, "zero": false}, "axis": null}, "y": {"datum": 406, "type": "quantitative", "scale": {"domain": [290, 500], "reverse": true, "nice": false, "zero": false}, "axis": null}, "text": {"value": "de ellos"}}},
        {"mark": {"type": "text", "align": "left", "fontSize": 9.2, "lineHeight": 14}, "encoding": {"x": {"datum": 99, "type": "quantitative", "scale": {"domain": [20, 720], "nice": false, "zero": false}, "axis": null}, "y": {"datum": 420, "type": "quantitative", "scale": {"domain": [290, 500], "reverse": true, "nice": false, "zero": false}, "axis": null}, "text": {"value": ["desde el 20 de", "enero, día de", "la posesión de", "Trump"]}}},
        {"mark": {"type": "rule", "color": "#aaa", "strokeDash": [1, 2]}, "encoding": {"x": {"datum": 15, "type": "quantitative", "scale": {"domain": [20, 720], "nice": false, "zero": false}, "axis": null}, "x2": {"datum": 145}, "y": {"datum": 474, "type": "quantitative", "scale": {"domain": [290, 500], "reverse": true, "nice": false, "zero": false}, "axis": null}}},
        {"mark": {"type": "text", "align": "left", "fontSize": 10.5, "fontWeight": "bold", "color": "#2a9fd8"}, "encoding": {"x": {"datum": 15, "type": "quantitative", "scale": {"domain": [20, 720], "nice": false, "zero": false}, "axis": null}, "y": {"datum": 483, "type": "quantitative", "scale": {"domain": [290, 500], "reverse": true, "nice": false, "zero": false}, "axis": null}, "text": {"value": "110.000"}}},
        {"mark": {"type": "text", "align": "left", "fontSize": 9.2}, "encoding": {"x": {"datum": 61, "type": "quantitative", "scale": {"domain": [20, 720], "nice": false, "zero": false}, "axis": null}, "y": {"datum": 483, "type": "quantitative", "scale": {"domain": [290, 500], "reverse": true, "nice": false, "zero": false}, "axis": null}, "text": {"value": "refugiados"}}},
        {"mark": {"type": "text", "align": "left", "fontSize": 9.2}, "encoding": {"x": {"datum": 15, "type": "quantitative", "scale": {"domain": [20, 720], "nice": false, "zero": false}, "axis": null}, "y": {"datum": 494.5, "type": "quantitative", "scale": {"domain": [290, 500], "reverse": true, "nice": false, "zero": false}, "axis": null}, "text": {"value": "era le meta de"}}},
        {"mark": {"type": "point", "shape": "M-0.6,-1L0.05,-1L0.7,0L0.05,1L-0.6,1L0.05,0Z", "size": 256, "filled": true, "color": "#2a9fd8", "opacity": 1}, "encoding": {"x": {"datum": 112, "type": "quantitative", "scale": {"domain": [20, 720], "nice": false, "zero": false}, "axis": null}, "y": {"datum": 489, "type": "quantitative", "scale": {"domain": [290, 500], "reverse": true, "nice": false, "zero": false}, "axis": null}}},
        {"mark": {"type": "text", "align": "right", "fontSize": 9.2, "lineHeight": 11.5}, "encoding": {"x": {"datum": 146, "type": "quantitative", "scale": {"domain": [20, 720], "nice": false, "zero": false}, "axis": null}, "y": {"datum": 483, "type": "quantitative", "scale": {"domain": [290, 500], "reverse": true, "nice": false, "zero": false}, "axis": null}, "text": {"value": ["desde", "1994"]}}}
      ]
    }
  ]
}
